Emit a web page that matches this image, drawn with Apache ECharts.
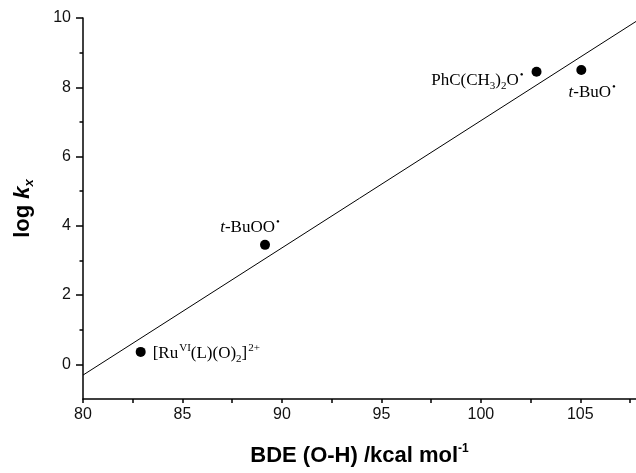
<!DOCTYPE html>
<html>
<head>
<meta charset="utf-8">
<script src="https://cdn.jsdelivr.net/npm/echarts@6/dist/echarts.min.js"></script>
<style>html,body{margin:0;padding:0;background:#fff}#c{width:636px;height:473px}</style>
</head>
<body>
<div id="c"></div>
<script>
// Data
const bdeValues = [82.9, 89.15, 102.8, 105.05];
const logkValues = [0.36, 3.45, 8.45, 8.5];
const pointLabels = [
  '{r|[Ru}{sup|VI}{r|(L)(O)}{sub|2}{r|]}{sup|2+}',
  '{i|t}{r|-BuOO}{dot|•}',
  '{r|PhC(CH}{sub|3}{r|)}{sub|2}{r|O}{dot|•}',
  '{i|t}{r|-BuO}{dot|•}'
];
const fitX = [80, 107.8];
const fitY = [-0.31, 9.9];
const xTickValues = [80, 82.5, 85, 87.5, 90, 92.5, 95, 97.5, 100, 102.5, 105, 107.5];
const xLabelValues = [80, 85, 90, 95, 100, 105];
const yMajorValues = [0, 2, 4, 6, 8, 10];
const yMinorValues = [1, 3, 5, 7, 9];

const serif = '"Liberation Serif", "Times New Roman", serif';
const sans = '"Liberation Sans", Arial, Helvetica, sans-serif';
const rich = {
  r: {fontFamily: serif, fontSize: 17, color: '#000', lineHeight: 22, verticalAlign: 'middle'},
  i: {fontFamily: serif, fontSize: 17, fontStyle: 'italic', color: '#000', lineHeight: 22, verticalAlign: 'middle'},
  sup: {fontFamily: serif, fontSize: 11, color: '#000', lineHeight: 10, verticalAlign: 'top', padding: [0, 0, 0, 1]},
  sub: {fontFamily: serif, fontSize: 11, color: '#000', lineHeight: 10, verticalAlign: 'bottom'},
  dot: {fontFamily: serif, fontSize: 11, color: '#000', lineHeight: 14, verticalAlign: 'top', padding: [0, 0, 0, 1]}
};
const labelPlacement = [
  {position: 'right', distance: 7, offset: [0, 2]},
  {position: 'top', distance: 3, offset: [-15, 2]},
  {position: 'left', distance: 8, offset: [0, 9]},
  {position: 'bottom', distance: 3, offset: [11, 4]}
];

const chart = echarts.init(document.getElementById('c'), null, {renderer: 'canvas'});
const axisLine = {show: true, onZero: false, lineStyle: {color: '#000', width: 1.5}};
chart.setOption({
  animation: false,
  backgroundColor: '#fff',
  grid: {left: 83, right: 0, top: 18, bottom: 74, outerBoundsMode: 'none', containLabel: false},
  xAxis: {
    type: 'value', min: 80, max: 107.8,
    name: '{b|BDE (O-H) /kcal mol}{s|-1}',
    nameLocation: 'middle', nameGap: 44,
    nameTextStyle: {rich: {
      b: {fontFamily: sans, fontWeight: 'bold', fontSize: 22, color: '#000', lineHeight: 26, verticalAlign: 'middle'},
      s: {fontFamily: sans, fontWeight: 'bold', fontSize: 12, color: '#000', lineHeight: 12, verticalAlign: 'top'}
    }},
    axisLine: axisLine,
    axisTick: {show: true, inside: false, length: 4, customValues: xTickValues, lineStyle: {color: '#000', width: 1.5}},
    axisLabel: {customValues: xLabelValues, margin: 8, fontFamily: sans, fontSize: 16, color: '#111'},
    splitLine: {show: false}
  },
  yAxis: [{
    type: 'value', min: -1, max: 10,
    name: '{b|log }{i|k}{s|x}',
    nameLocation: 'middle', nameRotate: 90, nameGap: 47,
    nameTextStyle: {rich: {
      b: {fontFamily: sans, fontWeight: 'bold', fontSize: 22, color: '#000', lineHeight: 26, verticalAlign: 'middle'},
      i: {fontFamily: sans, fontWeight: 'bold', fontStyle: 'italic', fontSize: 22, color: '#000', lineHeight: 26, verticalAlign: 'middle'},
      s: {fontFamily: sans, fontWeight: 'bold', fontStyle: 'italic', fontSize: 13, color: '#000', lineHeight: 12, verticalAlign: 'bottom'}
    }},
    axisLine: axisLine,
    axisTick: {show: true, inside: false, length: 7, customValues: yMajorValues, lineStyle: {color: '#000', width: 1.5}},
    axisLabel: {customValues: yMajorValues, margin: 12, fontFamily: sans, fontSize: 16, color: '#111'},
    splitLine: {show: false}
  }, {
    type: 'value', min: -1, max: 10, position: 'left',
    axisLine: {show: false, onZero: false},
    axisTick: {show: true, inside: false, length: 3.5, customValues: yMinorValues, lineStyle: {color: '#000', width: 1.5}},
    axisLabel: {show: false},
    splitLine: {show: false}
  }],
  series: [{
    type: 'line',
    data: fitX.map((x, i) => [x, fitY[i]]),
    showSymbol: false, symbol: 'none',
    lineStyle: {color: '#000', width: 1},
    silent: true, z: 2
  }, {
    type: 'scatter',
    symbol: 'circle', symbolSize: 10,
    itemStyle: {color: '#000', opacity: 1},
    z: 3,
    data: bdeValues.map((x, i) => ({
      value: [x, logkValues[i]],
      label: Object.assign({show: true, formatter: pointLabels[i], rich: rich}, labelPlacement[i])
    }))
  }]
});
</script>
</body>
</html>
